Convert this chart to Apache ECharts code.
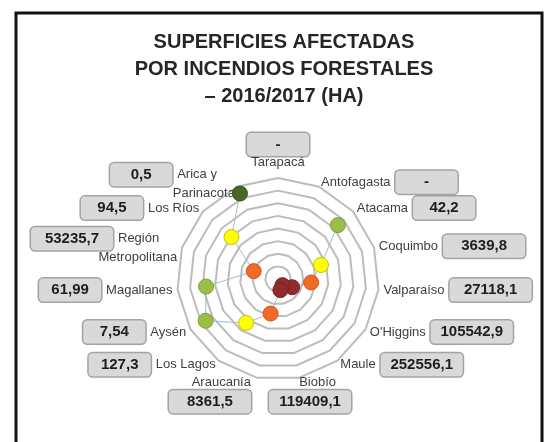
<!DOCTYPE html>
<html>
<head>
<meta charset="utf-8">
<script src="https://cdn.jsdelivr.net/npm/echarts@6/dist/echarts.min.js"></script>
<style>
  html, body { margin: 0; padding: 0; background: #fff; }
  #chart { width: 546px; height: 442px; }
</style>
</head>
<body>
<div id="chart"></div>
<script>
// regiones en sentido horario, empezando arriba
const regions = ['Tarapacá', 'Antofagasta', 'Atacama', 'Coquimbo', 'Valparaíso', "O'Higgins", 'Maule',
  'Biobío', 'Araucanía', 'Los Lagos', 'Aysén', 'Magallanes', 'Región Metropolitana', 'Los Ríos', 'Arica y Parinacota'];
// superficie afectada (ha); '-' = sin dato
const hectares = ['-', '-', 42.2, 3639.8, 27118.1, 105542.9, 252556.1, 119409.1, 8361.5, 127.3, 7.54, 61.99, 53235.7, 94.5, 0.5];
// posicion de cada punto en la escala del grafico (anillos 0-8)
const plotted = ['-', '-', 6.38, 3.58, 2.64, 1.3, 0.6, 0.9, 2.8, 4.3, 6.62, 5.73, 2.02, 4.96, 7.41];
const rings = 8;
// clases de color segun superficie
const classBreaks = [1, 90, 5000, 100000];
const classColors = ['#4b6628', '#9cbd47', '#ffff00', '#f16a27', '#902c2c'];
const classBorders = ['#3a4f1e', '#7f9c38', '#c2c200', '#d0561c', '#742222'];

// nombres que van en dos lineas
const nameLines = {
  'Región Metropolitana': ['Región', 'Metropolitana'],
  'Arica y Parinacota': ['Arica y', 'Parinacota']
};

function colorClass(v) {
  let k = 0;
  while (k < classBreaks.length && v >= classBreaks[k]) k++;
  return k;
}

function box(v) {
  const s = v === '-' ? '-' : String(v).replace('.', ',');
  return (s.length <= 5 ? '{v|' : '{vw|') + s + '}';
}

function axisLabel(name) {
  const i = regions.indexOf(name);
  const b = box(hectares[i]);
  const lines = nameLines[name] || [name];
  if (i === 0) return b + '\n{nt|' + name + '}';
  if (i === 7) return '{blank| }\n{nr|' + name + '}\n' + b;
  if (i === 8) return '{blank| }\n{n|' + name + '}\n' + b;
  if (i < 7) return '{n|' + name + '}{g| }' + b;
  let s = b + '{g| }{n|' + lines[0] + '}';
  if (lines.length > 1) s += '{sp| }\n{n|' + lines[1] + '}';
  return s;
}

// el radar dibuja los indicadores en sentido antihorario
const ccwOrder = [0].concat(regions.map((_, i) => i).slice(1).reverse());

const boxStyle = {
  fontFamily: 'Liberation Sans',
  fontSize: 15,
  fontWeight: 'bold',
  color: '#1e1e1e',
  backgroundColor: '#d9d9d9',
  borderColor: '#a3a3a3',
  borderWidth: 1.5,
  borderRadius: 4,
  align: 'center',
  height: 17
};
const nameStyle = { fontFamily: 'Liberation Sans', fontSize: 13, color: '#404040', lineHeight: 15 };

const chart = echarts.init(document.getElementById('chart'));
chart.setOption({
  animation: false,
  title: {
    text: 'SUPERFICIES AFECTADAS\nPOR INCENDIOS FORESTALES\n– 2016/2017 (HA)',
    left: 279,
    top: 24,
    textAlign: 'center',
    textStyle: {
      fontFamily: 'Liberation Sans',
      fontSize: 20,
      fontWeight: 'bold',
      color: '#262626',
      lineHeight: 27
    }
  },
  graphic: [{
    type: 'rect',
    silent: true,
    shape: { x: 16, y: 13, width: 526, height: 460 },
    style: { fill: 'none', stroke: '#111', lineWidth: 3 }
  }],
  radar: {
    center: [278, 279],
    radius: 101,
    startAngle: 90,
    splitNumber: rings,
    shape: 'polygon',
    nameGap: 5,
    indicator: ccwOrder.map(i => {
      const ind = { name: regions[i], min: 0, max: rings };
      // Tarapacá un poco mas arriba
      if (i === 0) ind.nameGap = 9;
      // Biobío: caja centrada bajo el nombre
      if (i === 7) ind.nameTextStyle = { align: 'center', padding: [0, 0, 0, 20] };
      if (i === 8) ind.nameTextStyle = { padding: [0, 5, 0, 0] };
      return ind;
    }),
    axisName: {
      color: '#404040',
      fontFamily: 'Liberation Sans',
      fontSize: 13,
      formatter: axisLabel,
      rich: {
        n: nameStyle,
        nt: Object.assign({}, nameStyle, { lineHeight: 13 }),
        nr: Object.assign({}, nameStyle, { align: 'right', padding: [0, 15, 0, 0] }),
        g: { width: 5 },
        sp: { width: 18 },
        blank: { height: 23 },
        v: Object.assign({}, boxStyle, { width: 40, padding: [3, 11] }),
        vw: Object.assign({}, boxStyle, { width: 60, padding: [3, 11] })
      }
    },
    axisLine: { show: false },
    axisTick: { show: false },
    axisLabel: { show: false },
    splitArea: { show: false },
    splitLine: { lineStyle: { color: '#bcbcbc', width: 2 } }
  },
  polar: { center: [278, 279], radius: 101 },
  angleAxis: {
    type: 'category',
    data: regions,
    startAngle: 90,
    clockwise: true,
    boundaryGap: false,
    show: false
  },
  radiusAxis: { min: 0, max: rings, show: false },
  series: [{
    type: 'line',
    coordinateSystem: 'polar',
    symbol: 'circle',
    symbolSize: 15,
    showAllSymbol: true,
    connectNulls: false,
    lineStyle: { color: '#a9b8cc', width: 1 },
    data: plotted.map((p, i) => {
      const k = hectares[i] === '-' ? 0 : colorClass(hectares[i]);
      return {
        value: p,
        itemStyle: { color: classColors[k], borderColor: classBorders[k], borderWidth: 1 }
      };
    })
  }]
});
</script>
</body>
</html>
